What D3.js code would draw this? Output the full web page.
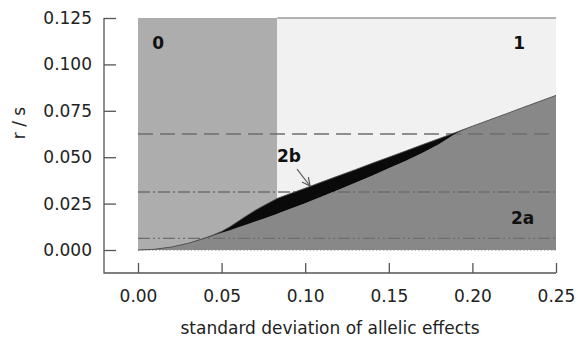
<!DOCTYPE html>
<html>
<head>
<meta charset="utf-8">
<script src="https://cdn.jsdelivr.net/npm/d3@7"></script>
<style>
  html, body { margin: 0; padding: 0; background: #fff; }
  svg { display: block; font-family: "DejaVu Sans", sans-serif; }
</style>
</head>
<body>
<svg id="chart" width="578" height="340"></svg>
<script>
// Standard deviation of allelic effects (x) at which the boundaries are sampled
const sigma = [0, 0.01, 0.02, 0.03, 0.04, 0.045, 0.05, 0.055, 0.06, 0.065, 0.07, 0.075, 0.08, 0.0833,
               0.09, 0.10, 0.11, 0.12, 0.13, 0.14, 0.15, 0.16, 0.17, 0.18, 0.19, 0.20, 0.21, 0.22, 0.23, 0.24, 0.25];
// Upper boundary of region 2 (separates it from regions 0 and 1)
const upperBound = [0, 0.0004, 0.0016, 0.0036, 0.0064, 0.0081, 0.0100, 0.0125, 0.0155, 0.0185, 0.0213, 0.0238, 0.0262, 0.0278,
                    0.0300, 0.0333, 0.0367, 0.0400, 0.0433, 0.0467, 0.0500, 0.0533, 0.0567, 0.0600, 0.0633, 0.0667, 0.0700, 0.0733, 0.0767, 0.0800, 0.0833];
// Upper boundary of region 2a (lower edge of the 2b wedge)
const lowerBound = [0, 0.0004, 0.0016, 0.0036, 0.0063, 0.0078, 0.0093, 0.0107, 0.0122, 0.0137, 0.0153, 0.0168, 0.0184, 0.0195,
                    0.0218, 0.0252, 0.0288, 0.0325, 0.0362, 0.0400, 0.0440, 0.0480, 0.0522, 0.0570, 0.0628, 0.0667, 0.0700, 0.0733, 0.0767, 0.0800, 0.0833];
// Split between region 0 and region 1
const regionSplit = 0.0833;
// Reference levels of r/s
const refLevels = [0.0625, 0.03125, 0.00625, 0];
const refStyles = ["15,7", "12,3,2,3", "12,3,2,3,2,3", "1.5,2"];
// Axis ticks
const xTicks = [0, 0.05, 0.10, 0.15, 0.20, 0.25];
const yTicks = [0, 0.025, 0.05, 0.075, 0.10, 0.125];
// Region labels
const regionNames = ["0", "1", "2a"];
const regionX = [0.012, 0.228, 0.230];
const regionY = [0.1115, 0.1115, 0.0172];
// Annotation for the thin wedge 2b
const noteText = "2b";
const notePos = [0.0903, 0.0506];
const noteFrom = [0.0951, 0.0436];
const noteTo = [0.1029, 0.0345];

const svg = d3.select("#chart");
const x = d3.scaleLinear().domain([0, 0.25]).range([138, 556]);
const y = d3.scaleLinear().domain([0, 0.125]).range([250, 18]);
const axisX = 104, axisY = 273;

const pts = sigma.map((s, i) => ({ s, up: upperBound[i], lo: lowerBound[i] }));

// Region 0 and region 1 backgrounds
svg.append("rect")
  .attr("x", x(0)).attr("y", y(0.125))
  .attr("width", x(regionSplit) - x(0)).attr("height", y(0) - y(0.125))
  .attr("fill", "#adadad");
svg.append("rect")
  .attr("x", x(regionSplit)).attr("y", y(0.125))
  .attr("width", x(0.25) - x(regionSplit)).attr("height", y(0) - y(0.125))
  .attr("fill", "#f1f1f1");
// top edge
svg.append("line")
  .attr("x1", x(regionSplit)).attr("x2", x(0.25))
  .attr("y1", y(0.125)).attr("y2", y(0.125))
  .attr("stroke", "#9a9a9a").attr("stroke-width", 1.5);

// Region 2a
svg.append("path")
  .datum(pts)
  .attr("d", d3.area().x(d => x(d.s)).y0(y(0)).y1(d => y(d.lo)))
  .attr("fill", "#888888");

// Reference levels
svg.selectAll("line.ref")
  .data(refLevels)
  .join("line")
  .attr("class", "ref")
  .attr("x1", x(0)).attr("x2", x(0.25))
  .attr("y1", d => y(d)).attr("y2", d => y(d))
  .attr("stroke", (d, i) => i === 3 ? "#8a8a8a" : "#6e6e6e")
  .attr("stroke-width", (d, i) => i === 3 ? 1 : 1.4)
  .attr("stroke-dasharray", (d, i) => refStyles[i]);

// Wedge 2b
svg.append("path")
  .datum(pts)
  .attr("d", d3.area().x(d => x(d.s)).y0(d => y(d.lo)).y1(d => y(d.up)))
  .attr("fill", "#0a0a0a");
svg.append("path")
  .datum(pts)
  .attr("d", d3.line().x(d => x(d.s)).y(d => y(d.up)))
  .attr("fill", "none").attr("stroke", "#4a4a4a").attr("stroke-width", 0.9);

// Axes
const yAxis = d3.axisLeft(y).tickValues(yTicks).tickFormat(d3.format(".3f"))
  .tickSizeInner(-12).tickSizeOuter(0).tickPadding(12);
const gy = svg.append("g").attr("transform", `translate(${axisX},0)`).call(yAxis);
const xAxis = d3.axisBottom(x).tickValues(xTicks).tickFormat(d3.format(".2f"))
  .tickSizeInner(-10).tickSizeOuter(0).tickPadding(17);
const gx = svg.append("g").attr("transform", `translate(0,${axisY})`).call(xAxis);
[gx, gy].forEach(g => {
  g.select(".domain").remove();
  g.selectAll(".tick line").attr("stroke", "#555").attr("stroke-width", 1.3);
  g.selectAll(".tick text").attr("fill", "#222").style("font-size", "17px")
    .style("font-family", "'DejaVu Sans', sans-serif");
});
svg.append("path")
  .attr("d", `M${axisX},${y(0.125)}V${axisY}H${x(0.25)}`)
  .attr("fill", "none").attr("stroke", "#555").attr("stroke-width", 1.3);

// Axis titles
svg.append("text")
  .attr("x", 330).attr("y", 334)
  .attr("text-anchor", "middle").attr("fill", "#222")
  .style("font-size", "17px")
  .text("standard deviation of allelic effects");
svg.append("text")
  .attr("transform", "translate(25,123) rotate(-90)")
  .attr("text-anchor", "middle").attr("fill", "#222")
  .style("font-size", "17px")
  .text("r / s");

// Region labels
svg.selectAll("text.region")
  .data(regionNames)
  .join("text")
  .attr("class", "region")
  .attr("x", (d, i) => x(regionX[i])).attr("y", (d, i) => y(regionY[i]))
  .attr("dy", "0.36em")
  .attr("text-anchor", "middle")
  .attr("fill", "#111").style("font-size", "17px").style("font-weight", "bold")
  .text(d => d);

// 2b annotation with arrow
svg.append("defs").append("marker")
  .attr("id", "head").attr("viewBox", "0 0 10 10")
  .attr("refX", 9).attr("refY", 5)
  .attr("markerWidth", 10).attr("markerHeight", 10)
  .attr("markerUnits", "userSpaceOnUse")
  .attr("orient", "auto")
  .append("path").attr("d", "M1,1L9,5L1,9")
  .attr("fill", "none").attr("stroke", "#555").attr("stroke-width", 1.2);
svg.append("line")
  .attr("x1", x(noteFrom[0])).attr("y1", y(noteFrom[1]))
  .attr("x2", x(noteTo[0])).attr("y2", y(noteTo[1]))
  .attr("stroke", "#555").attr("stroke-width", 1.1)
  .attr("marker-end", "url(#head)");
svg.append("text")
  .attr("x", x(notePos[0])).attr("y", y(notePos[1]))
  .attr("dy", "0.36em").attr("text-anchor", "middle")
  .attr("fill", "#111").style("font-size", "17px").style("font-weight", "bold")
  .text(noteText);
</script>
</body>
</html>
